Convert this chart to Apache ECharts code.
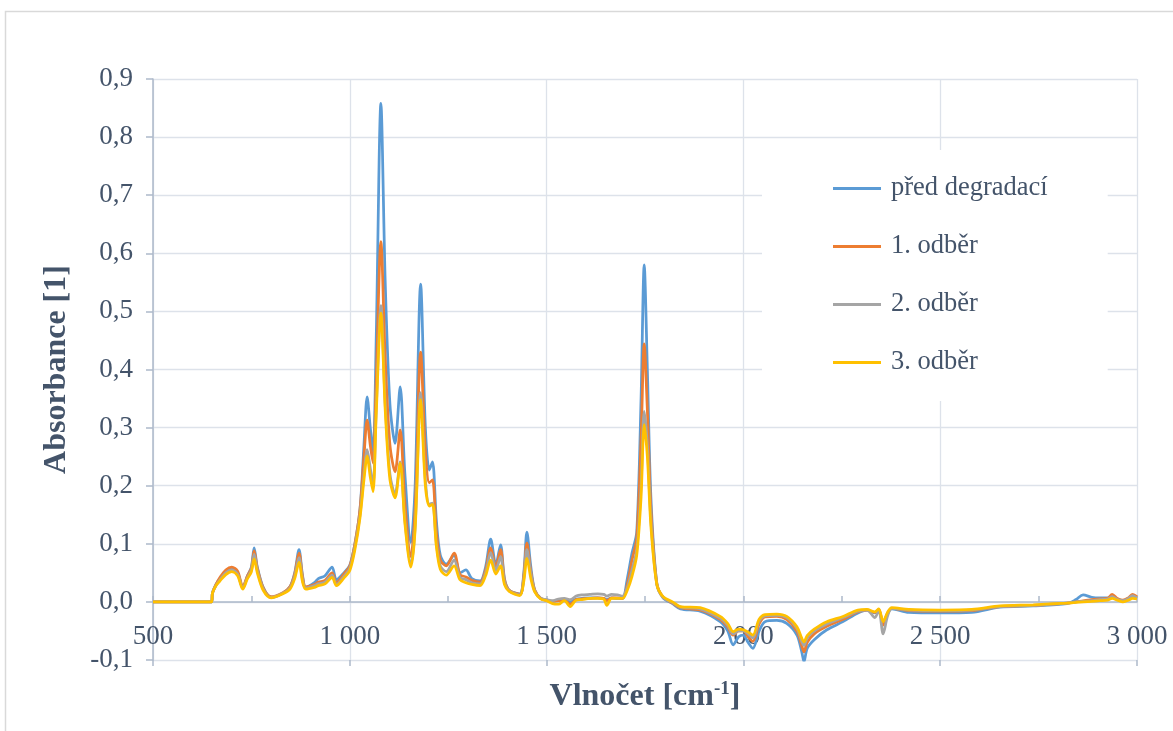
<!DOCTYPE html>
<html>
<head>
<meta charset="utf-8">
<script src="https://cdn.jsdelivr.net/npm/echarts@6/dist/echarts.min.js"></script>
<style>html,body{margin:0;padding:0;background:#fff}#c{width:1173px;height:731px}</style>
</head>
<body>
<div id="c"></div>
<script>
const seriesNames = ['před degradací', '1. odběr', '2. odběr', '3. odběr'];
const wavenumber = [500,600,649,651,660,670,685,700,715,728,740,750,757,765,780,800,830,848,860,871,880,888,910,920,937,955,966,985,1000,1013,1026,1036,1044,1052,1059,1067,1079,1090,1102,1115,1128,1140,1155,1166,1180,1192,1202,1210,1220,1230,1245,1265,1280,1295,1310,1331,1345,1358,1371,1383,1393,1405,1432,1442,1450,1460,1470,1485,1500,1515,1530,1545,1560,1575,1590,1610,1630,1645,1653,1665,1680,1693,1705,1717,1729,1740,1748,1756,1765,1780,1796,1820,1840,1890,1941,1960,1974,1988,2000,2012,2024,2040,2055,2085,2110,2136,2148,2154,2162,2180,2212,2253,2291,2314,2334,2344,2355,2366,2377,2420,2500,2580,2652,2736,2822,2845,2863,2885,2906,2925,2937,2950,2964,2978,2989,3000];
const pred = [0,0,0,0.015,0.03,0.04,0.052,0.057,0.05,0.024,0.045,0.06,0.093,0.06,0.025,0.008,0.015,0.026,0.05,0.09,0.045,0.025,0.033,0.04,0.045,0.06,0.038,0.05,0.063,0.1,0.16,0.27,0.353,0.3,0.258,0.45,0.858,0.55,0.34,0.273,0.37,0.22,0.102,0.2,0.547,0.3,0.227,0.241,0.14,0.08,0.065,0.08,0.05,0.055,0.04,0.036,0.06,0.108,0.064,0.098,0.04,0.02,0.014,0.05,0.12,0.06,0.02,0.006,0.003,0.001,0.003,0.004,0.0,0.005,0.006,0.007,0.007,0.006,0.004,0.007,0.006,0.006,0.04,0.084,0.12,0.35,0.58,0.4,0.18,0.032,0.007,-0.003,-0.012,-0.016,-0.034,-0.05,-0.074,-0.06,-0.057,-0.07,-0.08,-0.05,-0.034,-0.032,-0.037,-0.057,-0.085,-0.103,-0.08,-0.065,-0.048,-0.034,-0.019,-0.014,-0.019,-0.014,-0.037,-0.02,-0.012,-0.018,-0.019,-0.018,-0.009,-0.007,-0.003,0.004,0.012,0.008,0.007,0.007,0.008,0.005,0.002,0.005,0.01,0.007];
const odber1 = [0,0,0,0.015,0.03,0.042,0.055,0.06,0.053,0.026,0.045,0.058,0.088,0.058,0.024,0.009,0.016,0.026,0.048,0.084,0.043,0.026,0.03,0.034,0.037,0.05,0.033,0.048,0.062,0.1,0.16,0.25,0.313,0.27,0.239,0.38,0.62,0.42,0.27,0.224,0.296,0.17,0.078,0.16,0.43,0.26,0.205,0.21,0.12,0.072,0.062,0.084,0.047,0.043,0.037,0.034,0.055,0.093,0.06,0.09,0.038,0.02,0.013,0.045,0.101,0.052,0.02,0.006,0.003,0.001,0.002,0.003,-0.004,0.004,0.005,0.006,0.007,0.006,0.002,0.007,0.007,0.006,0.03,0.072,0.11,0.28,0.444,0.33,0.16,0.032,0.008,-0.002,-0.01,-0.014,-0.03,-0.043,-0.057,-0.05,-0.05,-0.06,-0.068,-0.038,-0.026,-0.025,-0.03,-0.05,-0.075,-0.086,-0.07,-0.055,-0.042,-0.03,-0.017,-0.014,-0.018,-0.013,-0.04,-0.02,-0.011,-0.015,-0.016,-0.015,-0.008,-0.006,-0.002,0.0,0.002,0.004,0.005,0.006,0.013,0.006,0.003,0.007,0.013,0.009];
const odber2 = [0,0,0,0.015,0.028,0.038,0.05,0.055,0.048,0.024,0.042,0.055,0.082,0.054,0.022,0.008,0.015,0.024,0.044,0.076,0.038,0.024,0.028,0.031,0.034,0.046,0.03,0.044,0.058,0.095,0.15,0.22,0.262,0.23,0.2,0.33,0.51,0.34,0.22,0.185,0.241,0.14,0.065,0.13,0.36,0.21,0.168,0.17,0.1,0.062,0.052,0.072,0.042,0.038,0.033,0.031,0.05,0.085,0.054,0.078,0.034,0.019,0.012,0.04,0.09,0.048,0.018,0.006,0.004,0.002,0.005,0.006,0.004,0.01,0.012,0.013,0.014,0.013,0.01,0.013,0.012,0.01,0.025,0.055,0.09,0.2,0.328,0.27,0.14,0.03,0.008,-0.001,-0.009,-0.012,-0.028,-0.04,-0.055,-0.05,-0.05,-0.055,-0.062,-0.033,-0.024,-0.023,-0.027,-0.046,-0.068,-0.075,-0.062,-0.05,-0.038,-0.027,-0.016,-0.014,-0.027,-0.014,-0.055,-0.025,-0.011,-0.014,-0.015,-0.014,-0.008,-0.006,-0.002,0.0,0.001,0.002,0.004,0.005,0.009,0.004,0.002,0.006,0.011,0.007];
const odber3 = [0,0,0,0.015,0.028,0.036,0.047,0.052,0.045,0.022,0.04,0.052,0.074,0.05,0.02,0.007,0.014,0.022,0.04,0.068,0.034,0.022,0.025,0.028,0.031,0.042,0.028,0.041,0.054,0.09,0.145,0.21,0.251,0.215,0.19,0.32,0.497,0.33,0.21,0.179,0.239,0.135,0.06,0.125,0.348,0.2,0.165,0.168,0.095,0.056,0.046,0.062,0.038,0.033,0.03,0.028,0.045,0.072,0.048,0.062,0.03,0.018,0.011,0.035,0.075,0.04,0.017,0.005,0.002,-0.003,-0.004,0.002,-0.008,0.003,0.004,0.006,0.006,0.005,-0.006,0.006,0.006,0.006,0.02,0.044,0.08,0.18,0.305,0.25,0.13,0.03,0.009,0.0,-0.008,-0.01,-0.025,-0.037,-0.051,-0.047,-0.048,-0.052,-0.057,-0.03,-0.022,-0.021,-0.025,-0.043,-0.062,-0.069,-0.058,-0.047,-0.034,-0.025,-0.014,-0.013,-0.017,-0.012,-0.034,-0.018,-0.01,-0.013,-0.014,-0.013,-0.007,-0.005,-0.002,-0.001,0.0,0.001,0.002,0.003,0.006,0.003,0.0,0.003,0.006,0.005];
const colors = ['#5B9BD5', '#ED7D31', '#A5A5A5', '#FFC000'];
const xTitle = 'Vlnočet [cm';
const xTitleSup = '-1';
const yTitle = 'Absorbance [1]';

const allValues = [pred, odber1, odber2, odber3];
const font = 'Liberation Serif, Times New Roman, serif';
const textColor = '#44546A';
const axisColor = '#ADB9CA';
const gridColor = '#DDE2EA';
const xRange = {type: 'value', min: 500, max: 3000, interval: 500, position: 'bottom'};

const chart = echarts.init(document.getElementById('c'), null, {renderer: 'canvas'});
chart.setOption({
  animation: false,
  backgroundColor: '#fff',
  color: colors,
  graphic: [{
    type: 'rect', left: 3, top: 9, z: -10,
    shape: {width: 1200, height: 760},
    style: {fill: 'none', stroke: '#D9D9D9', lineWidth: 1.5}
  }],
  grid: {left: 153, right: 36, top: 79, bottom: 71, containLabel: false, outerBoundsMode: 'none'},
  legend: {
    orient: 'vertical',
    left: 762, top: 150,
    padding: [25, 60, 25, 71],
    itemGap: 31,
    itemWidth: 48,
    itemHeight: 3,
    icon: 'rect',
    backgroundColor: '#fff',
    z: 5,
    textStyle: {fontFamily: font, fontSize: 26.5, color: textColor, padding: [0, 0, 0, 5]},
    data: seriesNames
  },
  xAxis: [Object.assign({}, xRange, {
    name: xTitle + '{sup|' + xTitleSup + '}]',
    nameLocation: 'middle', nameGap: 20, nameMoveOverlap: false,
    nameTextStyle: {
      fontFamily: font, fontSize: 32, fontWeight: 'bold', color: textColor,
      rich: {sup: {fontFamily: font, fontSize: 19, fontWeight: 'bold', color: textColor, verticalAlign: 'top', padding: [0, 0, 15, 0]}}
    },
    axisLine: {show: false, onZero: false},
    axisTick: {show: false},
    splitLine: {show: true, lineStyle: {color: gridColor, width: 1.3}},
    axisLabel: {
      fontFamily: font, fontSize: 27, color: textColor, margin: -37,
      formatter: v => String(v).replace(/\B(?=(\d{3})+(?!\d))/g, ' ')
    }
  }), Object.assign({}, xRange, {
    axisLine: {show: true, onZero: true, lineStyle: {color: axisColor, width: 1.5}},
    axisTick: {show: true, inside: true, length: 6, lineStyle: {color: axisColor, width: 1.5}},
    minorTick: {show: true, splitNumber: 2, length: 6, lineStyle: {color: axisColor, width: 1.5}},
    splitLine: {show: false},
    axisLabel: {show: false}
  }), Object.assign({}, xRange, {
    axisLine: {show: false, onZero: true},
    axisTick: {show: true, inside: false, length: 6, lineStyle: {color: axisColor, width: 1.5}},
    splitLine: {show: false},
    axisLabel: {show: false}
  })],
  yAxis: {
    type: 'value', min: -0.1, max: 0.9, interval: 0.1,
    name: yTitle, nameLocation: 'middle', nameGap: 80,
    nameTextStyle: {fontFamily: font, fontSize: 32, fontWeight: 'bold', color: textColor},
    axisLine: {show: true, lineStyle: {color: axisColor, width: 1.5}},
    axisTick: {show: true, length: 7, lineStyle: {color: axisColor, width: 1.5}},
    splitLine: {show: true, lineStyle: {color: gridColor, width: 1.3}},
    axisLabel: {
      fontFamily: font, fontSize: 27, color: textColor, margin: 20,
      formatter: v => (Math.round(v * 10) / 10).toFixed(1).replace('.', ',')
    }
  },
  series: seriesNames.map((name, k) => ({
    name: name,
    type: 'line',
    xAxisIndex: 0,
    data: wavenumber.map((x, i) => [x, allValues[k][i]]),
    showSymbol: false,
    symbol: 'none',
    smooth: 0.3,
    lineStyle: {width: 2.75, color: colors[k]},
    itemStyle: {color: colors[k]},
    z: 2 + k
  }))
});
</script>
</body>
</html>
